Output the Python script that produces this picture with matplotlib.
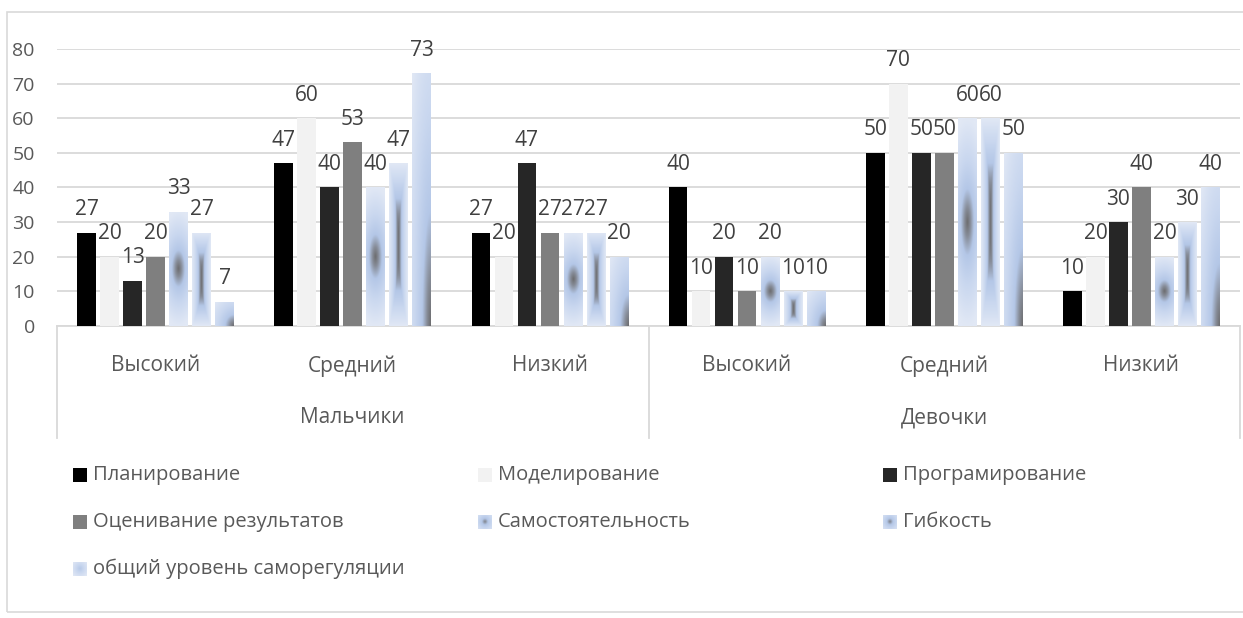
import numpy as np
import matplotlib
matplotlib.use("Agg")
import matplotlib.pyplot as plt
from matplotlib.colors import LinearSegmentedColormap
from matplotlib.patches import Rectangle
from matplotlib.lines import Line2D
from matplotlib.transforms import blended_transform_factory

# ---- data ----
genders = ["Мальчики", "Девочки"]
levels = ["Высокий", "Средний", "Низкий"]
series_names = ["Планирование", "Моделирование", "Програмирование",
                "Оценивание результатов", "Самостоятельность", "Гибкость",
                "общий уровень саморегуляции"]

planning = [27, 47, 27, 40, 50, 10]
modeling = [20, 60, 20, 10, 70, 20]
programming = [13, 40, 47, 20, 50, 30]
evaluation = [20, 53, 27, 10, 50, 40]
independence = [33, 40, 27, 20, 60, 20]
flexibility = [27, 47, 27, 10, 60, 30]
overall = [7, 73, 20, 10, 50, 40]

values = [planning, modeling, programming, evaluation,
          independence, flexibility, overall]
fills = ["#000000", "#f2f2f2", "#262626", "#7f7f7f",
         "radial", "rect", "corner"]
GRADIENTS = ("radial", "rect", "corner")

# ---- style ----
plt.rcParams["font.family"] = ["Open Sans", "DejaVu Sans"]
TEXT = "#595959"
LABEL = "#404040"
GRID = "#d9d9d9"
W, H = 1243, 618

grad_cmap = LinearSegmentedColormap.from_list(
    "blue_grad",
    [(0.00, "#6c6c6e"), (0.14, "#878d99"), (0.32, "#b4c7e7"),
     (0.60, "#c9d7ef"), (1.00, "#e1e8f5")])


def gradient_rgba(kind, nx=40, ny=300):
    """RGBA image of a blue gradient fill; t=0 is the dark focus."""
    u = np.linspace(-1, 1, nx)[None, :]
    v = np.linspace(-1, 1, ny)[:, None]
    if kind == "radial":          # dark blob in the middle
        t = np.sqrt((0.45 * u) ** 2 + v ** 2)
    elif kind == "rect":          # dark vertical streak in the middle
        t = np.maximum(np.abs(u) + 0 * v, v ** 2 + 0 * u)
    elif kind == "corner":        # dark in the bottom-right corner
        a = (1 - u) / 2
        b = (v + 1) / 2
        t = np.sqrt(a ** 2 + b ** 2) / np.sqrt(2)
    elif kind == "key_dot":       # legend swatch with a small dark centre
        t = 0.1 + 0.5 * np.sqrt(u ** 2 + v ** 2)
    else:                         # plain soft legend swatch
        t = 0.35 + 0.65 * np.sqrt(u ** 2 + v ** 2) / np.sqrt(2)
    return grad_cmap(np.clip(t, 0, 1))


fig = plt.figure(figsize=(W / 100, H / 100), dpi=100)

# outer chart frame
fig.patches.append(Rectangle((7 / W, 1 - 612 / H), (W + 20) / W, (612 - 12) / H,
                             transform=fig.transFigure, fill=False,
                             edgecolor=GRID, linewidth=1.2, zorder=0))

left, right, y0, y80 = 57, 1240, 326, 49
ax = fig.add_axes([left / W, 1 - y0 / H, (right - left) / W, (y0 - y80) / H])
ax_h = y0 - y80

x = np.arange(len(planning))
n = len(values)
slot = 0.1167
bw = 0.095

for i, (vals, fill) in enumerate(zip(values, fills)):
    pos = x + (i - (n - 1) / 2) * slot
    solid = fill not in GRADIENTS
    bars = ax.bar(pos, vals, width=bw, color=fill if solid else "none",
                  edgecolor="none", zorder=3)
    if not solid:
        img = gradient_rgba(fill)
        for b in bars:
            bx, by = b.get_x(), b.get_y()
            im = ax.imshow(img, extent=[bx, bx + b.get_width(), by, by + b.get_height()],
                           origin="lower", aspect="auto", interpolation="bilinear",
                           zorder=3)
            im.set_clip_path(b)
    ax.bar_label(bars, labels=[str(v) for v in vals], padding=9,
                 fontsize=15, color=LABEL)

ax.set_xlim(-0.5, 5.5)
ax.set_ylim(0, 80)
ax.set_yticks(range(0, 81, 10))
ax.tick_params(axis="y", length=0, pad=16, labelsize=14, labelcolor=TEXT)
ax.yaxis.grid(True, color=GRID, linewidth=1.3, zorder=0)
ax.set_axisbelow(True)
for s in ["top", "right", "left"]:
    ax.spines[s].set_visible(False)
ax.spines["bottom"].set_color(GRID)
ax.spines["bottom"].set_linewidth(1.3)

# two-level category axis
ax.set_xticks(x)
ax.set_xticklabels(levels * 2)
ax.tick_params(axis="x", length=0, pad=21, labelsize=15, labelcolor=TEXT)
tr = blended_transform_factory(ax.transData, ax.transAxes)
for k, g in enumerate(genders):
    ax.text(1 + 3 * k, -(418 - y0) / ax_h, g, transform=tr, ha="center",
            va="center", fontsize=15, color=TEXT)
for xb in (-0.5, 2.5, 5.5):
    ax.add_line(Line2D([xb, xb], [0, -(438 - y0) / ax_h], transform=tr,
                       color=GRID, linewidth=1.3, clip_on=False))

# legend, three columns
col_x = [73, 478, 883]
row_y = [475, 522, 569]
msz = 14
for i, (name, fill) in enumerate(zip(series_names, fills)):
    cx = col_x[i % 3]
    cy = row_y[i // 3]
    key = fig.add_axes([cx / W, 1 - (cy + msz / 2) / H, msz / W, msz / H])
    key.set_axis_off()
    if fill in GRADIENTS:
        kind = "key_plain" if fill == "corner" else "key_dot"
        key.imshow(gradient_rgba(kind, 20, 20), extent=[0, 1, 0, 1],
                   origin="lower", aspect="auto", interpolation="bilinear")
    else:
        key.add_patch(Rectangle((0, 0), 1, 1, color=fill))
    key.set_xlim(0, 1)
    key.set_ylim(0, 1)
    fig.text((cx + msz + 6) / W, 1 - cy / H, name, ha="left", va="center",
             fontsize=14.5, color=TEXT)

fig.savefig("out.png", dpi=100)
